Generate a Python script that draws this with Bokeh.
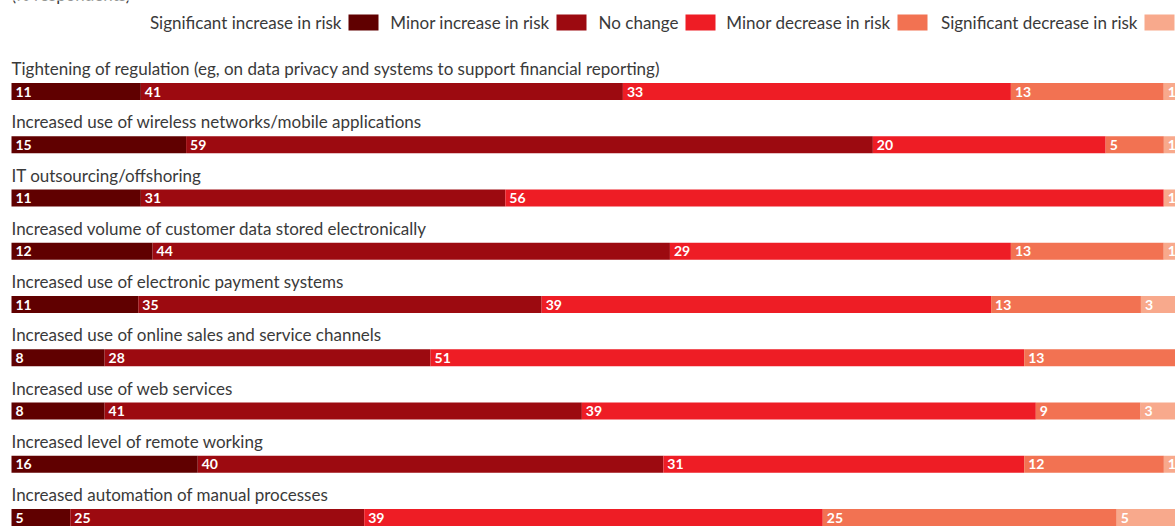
from bokeh.plotting import figure
from bokeh.models import Range1d
from bokeh.embed import file_html
from bokeh.resources import INLINE
from bokeh.core.properties import value

categories = [
    "Tightening of regulation (eg, on data privacy and systems to support financial reporting)",
    "Increased use of wireless networks/mobile applications",
    "IT outsourcing/offshoring",
    "Increased volume of customer data stored electronically",
    "Increased use of electronic payment systems",
    "Increased use of online sales and service channels",
    "Increased use of web services",
    "Increased level of remote working",
    "Increased automation of manual processes",
]
series_names = ["Significant increase in risk", "Minor increase in risk", "No change",
                "Minor decrease in risk", "Significant decrease in risk"]
sig_inc = [11, 15, 11, 12, 11, 8, 8, 16, 5]
min_inc = [41, 59, 31, 44, 35, 28, 41, 40, 25]
no_chg = [33, 20, 56, 29, 39, 51, 39, 31, 39]
min_dec = [13, 5, 0, 13, 13, 13, 9, 12, 25]
sig_dec = [1, 1, 1, 1, 3, 0, 3, 1, 5]
colors = ["#600000", "#9c0a10", "#ee1d25", "#f27252", "#f8a98c"]

W, H = 1175, 526
X0 = 11            # px where 0% sits
PXU = (W - X0) / 100.0
ROW0, ROWSTEP = 91.0, 53.25

def px2x(px):
    return (px - X0) / PXU

def py2y(py):
    return (py - ROW0) / ROWSTEP

p = figure(width=W, height=H, output_backend="svg", toolbar_location=None,
           x_range=Range1d(px2x(0), px2x(W)), y_range=Range1d(py2y(H), py2y(0)),
           min_border=0, min_border_left=0, min_border_right=0,
           min_border_top=0, min_border_bottom=0)
p.xaxis.visible = False
p.yaxis.visible = False
p.xgrid.visible = False
p.ygrid.visible = False
p.outline_line_color = None
p.background_fill_color = "white"
p.border_fill_color = "white"

FONT = "Lato"
TXT = "#3a3a3a"
FS = "17px"

series = [sig_inc, min_inc, no_chg, min_dec, sig_dec]
rows = list(range(len(categories)))
totals = [sum(s[i] for s in series) for i in rows]
left = [0.0] * len(rows)
for s, c in zip(series, colors):
    lefts = list(left)
    rights = [left[i] + s[i] * 100.0 / totals[i] for i in rows]
    p.hbar(y=rows, left=lefts, right=rights, height=17 / ROWSTEP,
           fill_color=c, line_color=None)
    idx = [i for i in rows if s[i] > 0]
    p.text(x=[lefts[i] for i in idx], y=[i for i in idx], text=[str(s[i]) for i in idx],
           x_offset=4, text_baseline="middle", text_align="left",
           text_color="white", text_font=value(FONT), text_font_style="bold",
           text_font_size="14px")
    left = rights

# category labels
p.text(x=[0] * len(rows), y=[r - 23 / ROWSTEP for r in rows], text=categories,
       text_baseline="middle", text_align="left", text_color=TXT,
       text_font=value(FONT), text_font_size=FS)

# subtitle (cropped at the top, as in the source)
p.text(x=[px2x(11)], y=[py2y(4)], text=["(% respondents)"], text_baseline="bottom",
       text_align="left", text_color=TXT, text_font=value(FONT), text_font_size=FS)

# legend
sw_left_px = [348, 556, 685, 897, 1144]
sw_w = 30
p.quad(left=[px2x(v) for v in sw_left_px], right=[px2x(v + sw_w) for v in sw_left_px],
       top=[py2y(14)] * 5, bottom=[py2y(30)] * 5, fill_color=colors, line_color=None)
p.text(x=[px2x(v - 7) for v in sw_left_px], y=[py2y(22)] * 5, text=series_names,
       text_baseline="middle", text_align="right", text_color=TXT,
       text_font=value(FONT), text_font_size=FS)

open("out.html", "w").write(file_html(p, INLINE))
